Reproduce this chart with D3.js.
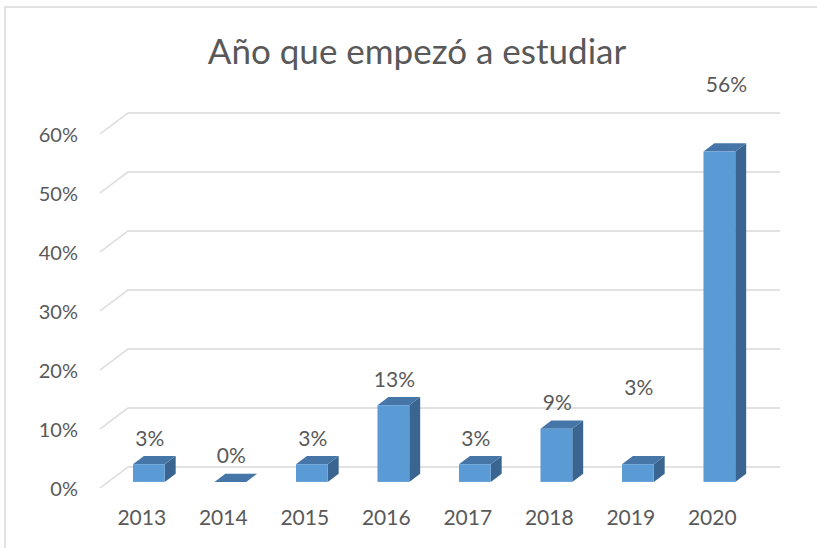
<!DOCTYPE html>
<html>
<head>
<meta charset="utf-8">
<script src="https://cdn.jsdelivr.net/npm/d3@7"></script>
<style>
    body { margin: 0; background: #ffffff; }
    text { font-family: Lato, "Open Sans", sans-serif; fill: #595959; }
    .axis text { font-size: 20px; }
    .axis#x text { font-size: 21px; }
    .axis path, .axis line { display: none; }
</style>
</head>
<body>
<svg id="chart" width="817" height="548"></svg>
<script>
// Data
var years = ["2013", "2014", "2015", "2016", "2017", "2018", "2019", "2020"];
var shares = [0.03, 0, 0.03, 0.13, 0.03, 0.09, 0.03, 0.56];
var yTicks = [0, 0.1, 0.2, 0.3, 0.4, 0.5, 0.6];

function barChart3D() {
    /*
    Draws an Excel style 3D column chart
    */

    var svg = d3.select("#chart");

    // Plot area on the front plane and depth of the 3D box
    var plot = { left: 100, right: 752, top: 134, bottom: 488 };
    var depth = { dx: 28, dy: -21 };
    var barDepth = { front: 0.29, back: 0.68 };

    // Chart border
    svg.append("path")
        .attr("d", "M5,560 L5,7 L830,7")
        .attr("fill", "none")
        .attr("stroke", "#d9d9d9")
        .attr("stroke-width", 1.5);

    // Scales
    var xScale = d3.scaleBand()
        .domain(years)
        .range([plot.left, plot.right])
        .paddingInner(0.61)
        .paddingOuter(0.305);

    var yScale = d3.scaleLinear()
        .domain([0, 0.6])
        .range([plot.bottom, plot.top]);

    // Gridlines: side wall diagonal plus back wall line
    var grid = svg.append("g").attr("class", "grid");
    grid.selectAll("path")
        .data(yTicks)
        .enter()
        .append("path")
        .attr("d", function(t) {
            var y = yScale(t);
            return `M${plot.left},${y} L${plot.left + depth.dx},${y + depth.dy} L${plot.right + depth.dx},${y + depth.dy}`;
        })
        .attr("fill", "none")
        .attr("stroke", "#d9d9d9")
        .attr("stroke-width", 1.5);

    // Y axis labels
    svg.append("g")
        .attr("class", "axis")
        .attr("id", "y")
        .attr("transform", "translate(78, 1)")
        .call(d3.axisLeft(yScale)
            .tickValues(yTicks)
            .tickSize(0)
            .tickPadding(0)
            .tickFormat(d3.format(".0%")));

    // X axis labels
    svg.append("g")
        .attr("class", "axis")
        .attr("id", "x")
        .attr("transform", "translate(1, 510)")
        .call(d3.axisBottom(xScale)
            .tickSize(0)
            .tickPadding(0));

    // Bars
    var bars = svg.selectAll(".bar")
        .data(years.map(function(year, i) { return { year: year, value: shares[i] }; }))
        .enter()
        .append("g")
        .attr("class", "bar");

    function corners(d) {
        var x0 = xScale(d.year);
        var w = xScale.bandwidth();
        var fdx = barDepth.front * depth.dx, fdy = barDepth.front * depth.dy;
        var bdx = barDepth.back * depth.dx, bdy = barDepth.back * depth.dy;
        return {
            left: x0 + fdx,
            right: x0 + w + fdx,
            bottom: yScale(0) + fdy,
            top: yScale(d.value) + fdy,
            ox: bdx - fdx,
            oy: bdy - fdy
        };
    }

    // Side face
    bars.append("path")
        .attr("d", function(d) {
            var c = corners(d);
            return `M${c.right},${c.bottom} L${c.right + c.ox},${c.bottom + c.oy} L${c.right + c.ox},${c.top + c.oy} L${c.right},${c.top} Z`;
        })
        .attr("fill", "#3a6591");

    // Top face
    bars.append("path")
        .attr("d", function(d) {
            var c = corners(d);
            return `M${c.left},${c.top} L${c.right},${c.top} L${c.right + c.ox},${c.top + c.oy} L${c.left + c.ox},${c.top + c.oy} Z`;
        })
        .attr("fill", "#4675a8");

    // Front face
    bars.append("rect")
        .attr("x", function(d) { return corners(d).left; })
        .attr("y", function(d) { return corners(d).top; })
        .attr("width", xScale.bandwidth())
        .attr("height", function(d) { var c = corners(d); return c.bottom - c.top; })
        .attr("fill", "#5b9bd5");

    // Data labels (2019 and 2020 were moved by hand in the original)
    var labelLift = { "2019": 77, "2020": 67 };
    var labelShift = { "2020": 6 };
    bars.append("text")
        .attr("x", function(d) {
            var c = corners(d);
            return (c.left + c.right) / 2 + 1 + (labelShift[d.year] || 0);
        })
        .attr("y", function(d) {
            var c = corners(d);
            return c.top - (labelLift[d.year] || 26);
        })
        .attr("dy", "0.35em")
        .attr("text-anchor", "middle")
        .style("font-size", "21px")
        .text(function(d) { return d3.format(".0%")(d.value); });

    // Title
    svg.append("text")
        .attr("x", 417)
        .attr("y", 52)
        .attr("dy", "0.35em")
        .attr("text-anchor", "middle")
        .style("font-size", "35px")
        .text("Año que empezó a estudiar");
}

barChart3D();
</script>
</body>
</html>
